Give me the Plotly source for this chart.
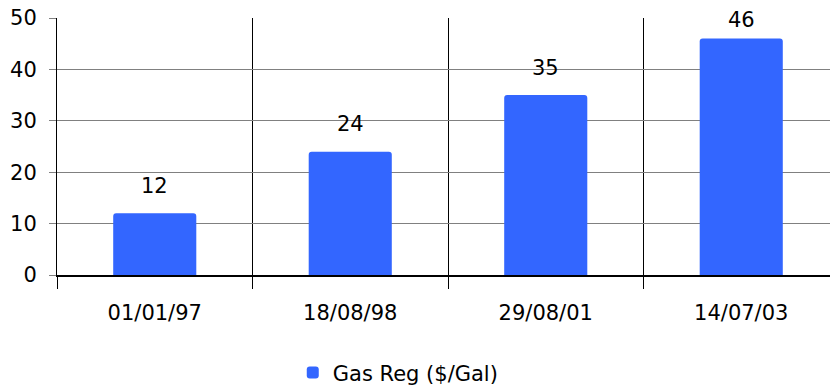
import plotly.graph_objects as go

# Regular gasoline price by date
dates = ["01/01/97", "18/08/98", "29/08/01", "14/07/03"]
gas_reg = [12, 24, 35, 46]
series_name = "Gas Reg ($/Gal)"
y_ticks = [0, 10, 20, 30, 40, 50]

FONT = "DejaVu Sans"
FS = 21
BAR_COLOR = "#3366FF"

fig = go.Figure()
fig.add_trace(go.Bar(
    x=dates,
    y=gas_reg,
    name=series_name,
    marker=dict(color=BAR_COLOR, cornerradius=3, line=dict(width=0)),
    width=0.425,
    showlegend=True,
))

# Value labels floating above each bar
for d, v in zip(dates, gas_reg):
    fig.add_annotation(
        x=d, y=min(v + 5.3, 49.6), text=str(v), showarrow=False,
        xref="x", yref="y", yanchor="middle",
        font=dict(family=FONT, size=FS, color="black"),
    )

fig.update_layout(
    width=830, height=387,
    margin=dict(l=57, r=0, t=18, b=112, autoexpand=False),
    paper_bgcolor="white", plot_bgcolor="white",
    font=dict(family=FONT, size=FS, color="black"),
    bargap=0.575,
    showlegend=True,
    legend=dict(
        orientation="h", x=0.305, xanchor="left", y=-0.381, yanchor="middle",
        font=dict(family=FONT, size=FS, color="black"),
        itemwidth=30, tracegroupgap=0,
    ),
    xaxis=dict(
        type="category",
        range=[-0.5, 3.454],
        tickson="boundaries",
        showgrid=True, gridcolor="black", gridwidth=1,
        ticks="outside", ticklen=12, tickcolor="black", tickwidth=1,
        showline=True, linecolor="black", linewidth=1.5,
        ticklabelstandoff=18,
        tickfont=dict(family=FONT, size=FS, color="black"),
    ),
    yaxis=dict(
        range=[0, 50],
        tickvals=y_ticks,
        showgrid=True, gridcolor="#808080", gridwidth=1,
        zeroline=False,
        ticks="outside", ticklen=7, tickcolor="#808080", tickwidth=1,
        showline=True, linecolor="black", linewidth=1,
        ticklabelstandoff=8,
        tickfont=dict(family=FONT, size=FS, color="black"),
    ),
)

fig.write_html("out.html")
